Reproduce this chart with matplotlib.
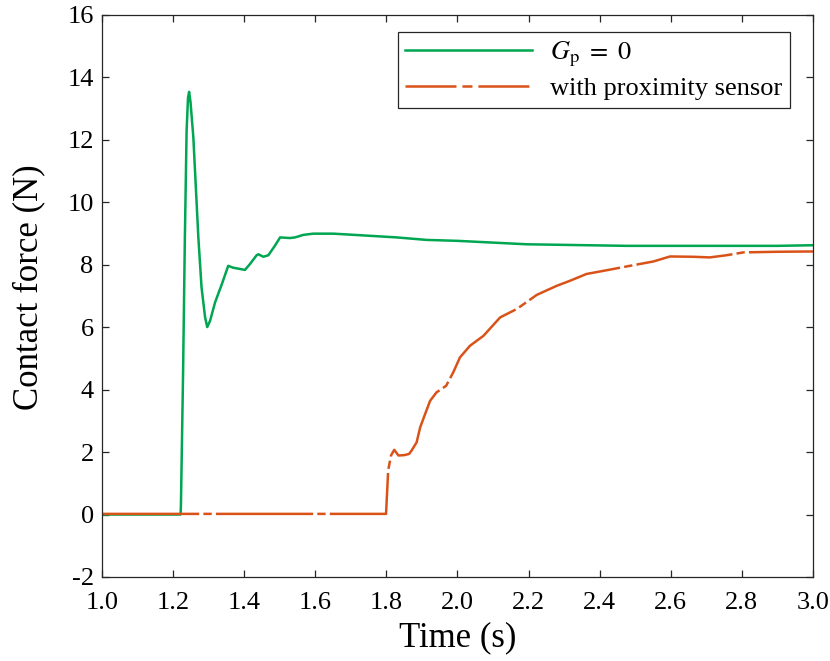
import numpy as np
import matplotlib
matplotlib.use("Agg")
import matplotlib.pyplot as plt
from matplotlib.lines import Line2D

# values
t_green = [1.00, 1.221, 1.222, 1.228, 1.233, 1.238, 1.242, 1.245, 1.249, 1.257,
           1.271, 1.280, 1.290, 1.296, 1.304, 1.318, 1.337, 1.355, 1.369, 1.388,
           1.402, 1.415, 1.435, 1.440, 1.454, 1.468, 1.485, 1.501, 1.515, 1.529,
           1.543, 1.566, 1.594, 1.651, 1.726, 1.829, 1.913, 2.000, 2.195, 2.476,
           2.663, 2.900, 3.000]
f_green = [0.0, 0.0, 0.3, 4.5, 8.8, 12.3, 13.35, 13.53, 13.2, 12.06,
           8.87, 7.27, 6.31, 6.00, 6.20, 6.79, 7.37, 7.96, 7.90, 7.86,
           7.83, 8.00, 8.30, 8.33, 8.25, 8.30, 8.58, 8.87, 8.86, 8.85,
           8.87, 8.95, 8.99, 8.99, 8.94, 8.87, 8.79, 8.76, 8.65, 8.60,
           8.60, 8.60, 8.62]

t_prox = [1.00, 1.799, 1.805, 1.813, 1.822, 1.834, 1.850, 1.864, 1.871, 1.885,
          1.895, 1.909, 1.923, 1.941, 1.968, 1.988, 2.007, 2.035, 2.073, 2.120,
          2.167, 2.223, 2.279, 2.316, 2.363, 2.420, 2.485, 2.551, 2.598, 2.663,
          2.710, 2.757, 2.804, 2.898, 3.000]
f_prox = [0.02, 0.02, 1.41, 1.89, 2.07, 1.89, 1.90, 1.94, 2.05, 2.31,
          2.79, 3.22, 3.64, 3.91, 4.12, 4.55, 5.03, 5.40, 5.72, 6.31,
          6.58, 7.03, 7.32, 7.48, 7.70, 7.82, 7.96, 8.10, 8.26, 8.25,
          8.23, 8.30, 8.39, 8.41, 8.42]

x_ticks = [1.0, 1.2, 1.4, 1.6, 1.8, 2.0, 2.2, 2.4, 2.6, 2.8, 3.0]
y_ticks = [-2, 0, 2, 4, 6, 8, 10, 12, 14, 16]

plt.rcParams["font.family"] = ["Liberation Serif", "DejaVu Serif"]
plt.rcParams["mathtext.fontset"] = "stix"
plt.rcParams["axes.unicode_minus"] = False
plt.rcParams["lines.scale_dashes"] = False

axcol = "#262626"
green = "#00A651"
orange = "#D95319"

fig = plt.figure(figsize=(8.30, 6.61), dpi=100)
ax = fig.add_axes([0.1229, 0.1271, 0.8566, 0.8507])

ax.plot(t_green, f_green, color=green, lw=1.8)
# the measured trace is so noisy that its dash gaps mostly close up
ax.plot(t_prox, f_prox, color=orange, lw=1.8, dashes=(70, 3, 6, 3))

ax.set_xlim(1.0, 3.0)
ax.set_ylim(-2, 16)
ax.set_xticks(x_ticks)
ax.set_xticklabels([f"{v:.1f}" for v in x_ticks])
ax.set_yticks(y_ticks)
ax.set_yticklabels([str(v) for v in y_ticks])

ax.tick_params(direction="in", length=5, width=0.9, colors=axcol,
               labelcolor="black", labelsize=19, top=True, right=True, pad=6)
ax.tick_params(axis="x", pad=11)
for sp in ax.spines.values():
    sp.set_color(axcol)
    sp.set_linewidth(0.9)

ax.set_xlabel("Time (s)", fontsize=25, labelpad=5)
ax.set_ylabel("Contact force (N)", fontsize=25)
ax.yaxis.set_label_coords(-0.08, 0.515)

handles = [Line2D([], [], color=green, lw=1.8),
           Line2D([], [], color=orange, lw=1.8, dashes=(36.7, 4.3, 7.2, 4.3))]
labels = [r"$G_{\mathrm{p}}\ =\ 0$", "with proximity sensor"]
leg = ax.legend(handles, labels, loc="upper right",
                bbox_to_anchor=(0.9677, 0.9687),
                borderaxespad=0, fontsize=19, handlelength=4.8,
                handletextpad=0.7, labelspacing=0.3, borderpad=0.28,
                fancybox=False, framealpha=1, edgecolor=axcol)
leg.get_frame().set_linewidth(0.9)

fig.savefig("out.png", dpi=100)
